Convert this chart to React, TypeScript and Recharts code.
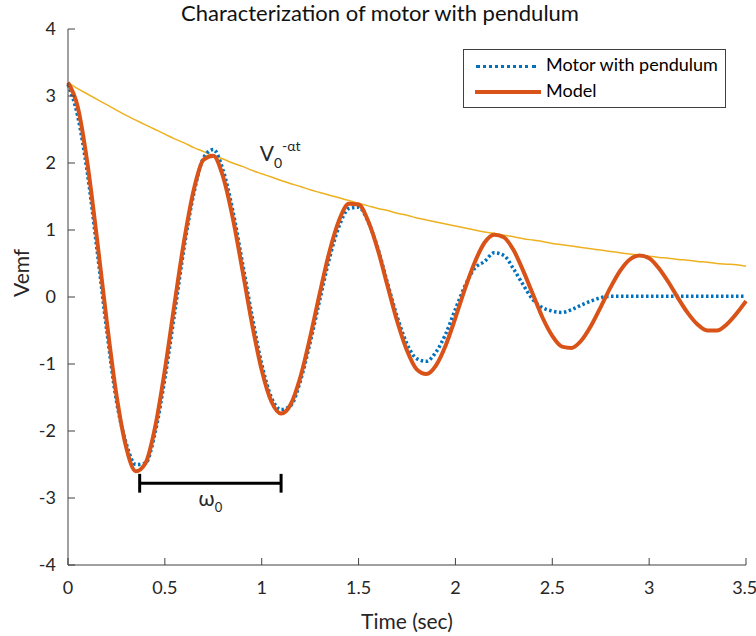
import { LineChart, Line, XAxis, YAxis, ReferenceLine, ReferenceDot } from 'recharts';

// time axis in seconds, sampled every 0.05 s
const time = [
  0, 0.05, 0.1, 0.15, 0.2, 0.25, 0.3, 0.35, 0.4, 0.45, 0.5, 0.55, 0.6, 0.65, 0.7, 0.75, 0.8, 0.85, 0.9, 0.95,
  1, 1.05, 1.1, 1.15, 1.2, 1.25, 1.3, 1.35, 1.4, 1.45, 1.5, 1.55, 1.6, 1.65, 1.7, 1.75, 1.8, 1.85, 1.9, 1.95,
  2, 2.05, 2.1, 2.15, 2.2, 2.25, 2.3, 2.35, 2.4, 2.45, 2.5, 2.55, 2.6, 2.65, 2.7, 2.75, 2.8, 2.85, 2.9, 2.95,
  3, 3.05, 3.1, 3.15, 3.2, 3.25, 3.3, 3.35, 3.4, 3.45, 3.5,
];

const measured = [
  3.17, 2.7, 1.85, 0.7, -0.5, -1.55, -2.18, -2.5, -2.48, -2.02, -1.22, -0.25, 0.75, 1.55, 2.08, 2.2, 1.9, 1.3, 0.52, -0.28,
  -1.0, -1.5, -1.68, -1.62, -1.25, -0.68, -0.04, 0.58, 1.06, 1.32, 1.34, 1.12, 0.72, 0.2, -0.3, -0.7, -0.92, -0.96, -0.82, -0.55,
  -0.18, 0.17, 0.43, 0.53, 0.66, 0.62, 0.42, 0.18, -0.04, -0.16, -0.21, -0.23, -0.19, -0.12, -0.06, -0.01, 0.01, 0.01, 0.01, 0.01,
  0.01, 0.01, 0.01, 0.01, 0.01, 0.01, 0.01, 0.01, 0.01, 0.01, 0.01,
];

const model = [
  3.2, 2.84, 2.0, 0.86, -0.36, -1.46, -2.24, -2.6, -2.48, -1.94, -1.09, -0.1, 0.85, 1.61, 2.05, 2.11, 1.8, 1.19, 0.41, -0.4,
  -1.09, -1.56, -1.74, -1.6, -1.19, -0.6, 0.06, 0.68, 1.15, 1.39, 1.38, 1.13, 0.7, 0.16, -0.37, -0.8, -1.08, -1.15, -1.02, -0.72,
  -0.31, 0.13, 0.52, 0.81, 0.93, 0.89, 0.7, 0.39, 0.04, -0.31, -0.58, -0.74, -0.76, -0.65, -0.43, -0.15, 0.14, 0.39, 0.56, 0.62,
  0.58, 0.43, 0.22, -0.02, -0.24, -0.41, -0.5, -0.5, -0.41, -0.25, -0.06,
];

const envelope = [
  3.2, 3.11, 3.03, 2.95, 2.87, 2.79, 2.71, 2.64, 2.57, 2.5, 2.43, 2.36, 2.3, 2.23, 2.17, 2.11, 2.06, 2.0, 1.95, 1.89,
  1.84, 1.79, 1.74, 1.69, 1.65, 1.6, 1.56, 1.52, 1.48, 1.44, 1.4, 1.36, 1.32, 1.29, 1.25, 1.22, 1.18, 1.15, 1.12, 1.09,
  1.06, 1.03, 1.0, 0.97, 0.95, 0.92, 0.9, 0.87, 0.85, 0.83, 0.8, 0.78, 0.76, 0.74, 0.72, 0.7, 0.68, 0.66, 0.64, 0.63,
  0.61, 0.59, 0.58, 0.56, 0.55, 0.53, 0.52, 0.5, 0.49, 0.48, 0.46,
];

const xTicks = [0, 0.5, 1, 1.5, 2, 2.5, 3, 3.5];
const yTicks = [-4, -3, -2, -1, 0, 1, 2, 3, 4];

// period marker (omega_0) from first trough to second trough
const periodStart = 0.37;
const periodEnd = 1.1;
const periodY = -2.78;
const periodTick = 0.14;
const envelopeLabelPos = { x: 0.99, y: 2.03 };

const BLUE = '#0072BD';
const ORANGE = '#D95319';
const YELLOW = '#EDB120';
const AXIS = '#404040';
const TEXT = '#262626';
const FONT = 'Lato, "Open Sans", sans-serif';

const data = time.map((t, i) => ({ t, measured: measured[i], model: model[i], envelope: envelope[i] }));

const EnvelopeLabel = (props: any) => (
  <text x={props.cx} y={props.cy} fontFamily={FONT} fill={TEXT}>
    <tspan fontSize={21}>V</tspan>
    <tspan fontSize={14} dy={7}>0</tspan>
    <tspan fontSize={14} dy={-17}>-αt</tspan>
  </text>
);

const OmegaLabel = (props: any) => (
  <text x={props.cx} y={props.cy} fontFamily={FONT} fill={TEXT} textAnchor="middle">
    <tspan fontSize={21}>ω</tspan>
    <tspan fontSize={13} dy={6}>0</tspan>
  </text>
);

export default function App() {
  return (
    <div style={{ position: 'absolute', left: 0, top: 0, width: 756, height: 636, background: '#fff', fontFamily: FONT }}>
      <div style={{ position: 'absolute', top: 1, left: 0, width: 760, textAlign: 'center', fontSize: 22, lineHeight: '24px', color: '#111' }}>
        Characterization of motor with pendulum
      </div>

      <LineChart width={756} height={636} data={data} margin={{ top: 29, right: 10, bottom: 31, left: 8 }}>
        <XAxis
          dataKey="t"
          type="number"
          domain={[0, 3.5]}
          ticks={xTicks}
          height={40}
          stroke={AXIS}
          tickSize={-7}
          tickMargin={23}
          tick={{ fill: TEXT, fontSize: 18, fontFamily: FONT }}
          label={{ value: 'Time (sec)', position: 'insideBottom', offset: -24, fill: TEXT, fontSize: 21, fontFamily: FONT }}
        />
        <YAxis
          type="number"
          domain={[-4, 4]}
          ticks={yTicks}
          width={60}
          stroke={AXIS}
          tickSize={-7}
          tickMargin={19}
          tick={{ fill: TEXT, fontSize: 18, fontFamily: FONT }}
          label={{ value: 'Vemf', angle: -90, position: 'insideLeft', offset: 14, fill: TEXT, fontSize: 21, fontFamily: FONT }}
        />
        <Line type="monotone" dataKey="envelope" stroke={YELLOW} strokeWidth={1.5} dot={false} isAnimationActive={false} />
        <Line type="monotone" dataKey="measured" stroke={BLUE} strokeWidth={3.5} strokeDasharray="2.5 2.5" dot={false} isAnimationActive={false} />
        <Line type="monotone" dataKey="model" stroke={ORANGE} strokeWidth={4} dot={false} isAnimationActive={false} />

        <ReferenceLine segment={[{ x: periodStart, y: periodY }, { x: periodEnd, y: periodY }]} stroke="#000" strokeWidth={3} />
        <ReferenceLine segment={[{ x: periodStart, y: periodY + periodTick }, { x: periodStart, y: periodY - periodTick }]} stroke="#000" strokeWidth={3} />
        <ReferenceLine segment={[{ x: periodEnd, y: periodY + periodTick }, { x: periodEnd, y: periodY - periodTick }]} stroke="#000" strokeWidth={3} />
        <ReferenceDot x={(periodStart + periodEnd) / 2} y={-3.12} r={0} shape={OmegaLabel} />
        <ReferenceDot x={envelopeLabelPos.x} y={envelopeLabelPos.y} r={0} shape={EnvelopeLabel} />
      </LineChart>

      <div style={{ position: 'absolute', left: 463, top: 49, width: 263, height: 59, border: '1px solid #404040', boxSizing: 'border-box', background: '#fff' }}>
        <div style={{ position: 'absolute', left: 12, top: 15, width: 60, borderTop: `3.5px dotted ${BLUE}` }} />
        <div style={{ position: 'absolute', left: 82, top: 3, fontSize: 18, color: '#000' }}>Motor with pendulum</div>
        <div style={{ position: 'absolute', left: 11, top: 40, width: 66, borderTop: `4px solid ${ORANGE}` }} />
        <div style={{ position: 'absolute', left: 82, top: 29, fontSize: 18, color: '#000' }}>Model</div>
      </div>
    </div>
  );
}
